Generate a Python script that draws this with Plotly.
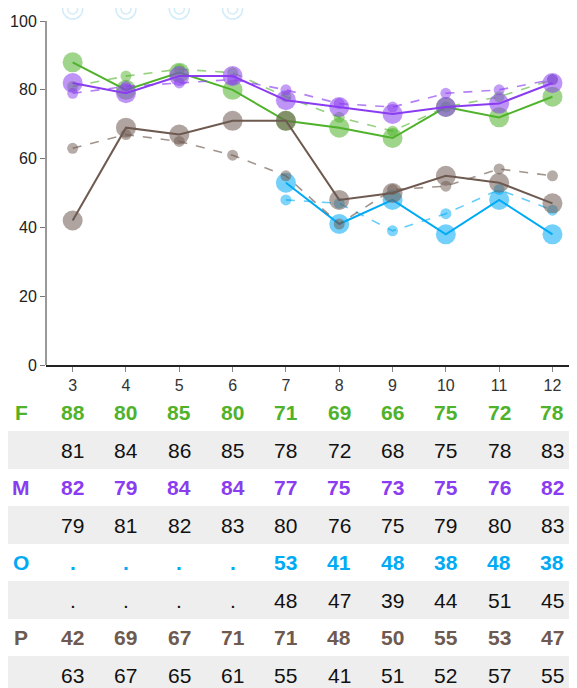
import plotly.graph_objects as go

# ---- data ----
months = [3, 4, 5, 6, 7, 8, 9, 10, 11, 12]
series_names = ["F", "M", "O", "P"]
F_main = [88, 80, 85, 80, 71, 69, 66, 75, 72, 78]
F_ref = [81, 84, 86, 85, 78, 72, 68, 75, 78, 83]
M_main = [82, 79, 84, 84, 77, 75, 73, 75, 76, 82]
M_ref = [79, 81, 82, 83, 80, 76, 75, 79, 80, 83]
O_main = [None, None, None, None, 53, 41, 48, 38, 48, 38]
O_ref = [None, None, None, None, 48, 47, 39, 44, 51, 45]
P_main = [42, 69, 67, 71, 71, 48, 50, 55, 53, 47]
P_ref = [63, 67, 65, 61, 55, 41, 51, 52, 57, 55]
y_ticks = [0, 20, 40, 60, 80, 100]

# ---- styles ----
colors = {"F": "#4fb22a", "M": "#8a3cf0", "O": "#00aaf5", "P": "#6e5a50"}
dash_colors = {"F": "rgba(79,178,42,0.6)", "M": "rgba(138,60,240,0.65)",
               "O": "rgba(0,170,245,0.6)", "P": "rgba(110,90,80,0.65)"}
mains = {"F": F_main, "M": M_main, "O": O_main, "P": P_main}
refs = {"F": F_ref, "M": M_ref, "O": O_ref, "P": P_ref}

OFF = 8  # page body margin
W, H = 577 - OFF, 688 - OFF
L, R, T = 46 - OFF, 0, 0
axis_px = 365 - OFF
plot_h = axis_px - T
B = H - axis_px
FONT = "Liberation Sans, Arial, sans-serif"


def py(ref_pixel_y):
    return (axis_px - (ref_pixel_y - OFF)) / plot_h


def px(ref_pixel_x):
    return (ref_pixel_x - OFF - L) / (W - L - R)


fig = go.Figure()

for s in series_names:
    fig.add_trace(go.Scatter(
        x=months, y=refs[s], mode="lines+markers",
        line=dict(color=dash_colors[s], width=1.6, dash="dash"),
        marker=dict(size=11, color=colors[s], opacity=0.5),
        connectgaps=False, showlegend=False, hoverinfo="skip"))
    fig.add_trace(go.Scatter(
        x=months, y=mains[s], mode="lines+markers",
        line=dict(color=colors[s], width=2),
        marker=dict(size=20, color=colors[s], opacity=0.55),
        connectgaps=False, showlegend=False, hoverinfo="skip"))

# faint rings where O has no value (drawn off the top of the chart)
missing_x = [m for m, v in zip(months, O_main) if v is None]
for sz in (20, 10):
    fig.add_trace(go.Scatter(
        x=missing_x, y=[103.5] * len(missing_x), mode="markers",
        marker=dict(symbol="circle-open", size=sz, color="rgba(0,150,220,0.18)",
                    line=dict(width=1.5)),
        showlegend=False, hoverinfo="skip"))

# ---- table ----
row_px = [412, 450, 487, 525, 562, 600, 637, 675]
shapes = []
annotations = []
for i, s in enumerate(series_names):
    main_y = row_px[2 * i]
    ref_y = row_px[2 * i + 1]
    shapes.append(dict(type="rect", xref="paper", yref="paper",
                       x0=px(7), x1=px(570), y0=py(ref_y - 19), y1=py(ref_y + 19),
                       fillcolor="#eeeeee", line=dict(width=0), layer="below"))
    annotations.append(dict(xref="paper", yref="paper", x=px(21), y=py(main_y),
                            text="<b>%s</b>" % s, showarrow=False,
                            xanchor="center", yanchor="middle",
                            font=dict(family=FONT, size=21, color=colors[s])))
    for m, v, r in zip(months, mains[s], refs[s]):
        annotations.append(dict(xref="x", yref="paper", x=m, y=py(main_y),
                                text="<b>%s</b>" % ("." if v is None else v),
                                showarrow=False, xanchor="center", yanchor="middle",
                                font=dict(family=FONT, size=21, color=colors[s])))
        annotations.append(dict(xref="x", yref="paper", x=m, y=py(ref_y),
                                text="." if r is None else str(r),
                                showarrow=False, xanchor="center", yanchor="middle",
                                font=dict(family=FONT, size=21, color="#111111")))

# y axis line drawn only up to 100
shapes.append(dict(type="line", xref="paper", yref="y", x0=0, x1=0, y0=0, y1=100,
                   line=dict(color="#777777", width=1.5)))

fig.update_layout(
    width=W, height=H,
    margin=dict(l=L, r=R, t=T, b=B, pad=0),
    plot_bgcolor="white", paper_bgcolor="white",
    shapes=shapes, annotations=annotations,
    font=dict(family=FONT, size=16, color="#222222"),
    xaxis=dict(range=[2.5, 12.46], tickvals=months, ticktext=[str(m) for m in months],
               showgrid=False, zeroline=False, showline=True, linecolor="#222222",
               linewidth=1.5, ticks="outside", ticklen=5, tickcolor="#888888",
               tickfont=dict(size=16, color="#333333")),
    yaxis=dict(range=[0, 103.8], tickvals=y_ticks, showgrid=False, zeroline=False,
               showline=False, ticks="outside", ticklen=5, tickcolor="#777777",
               tickfont=dict(size=16, color="#222222")),
)

fig.write_html("out.html")
